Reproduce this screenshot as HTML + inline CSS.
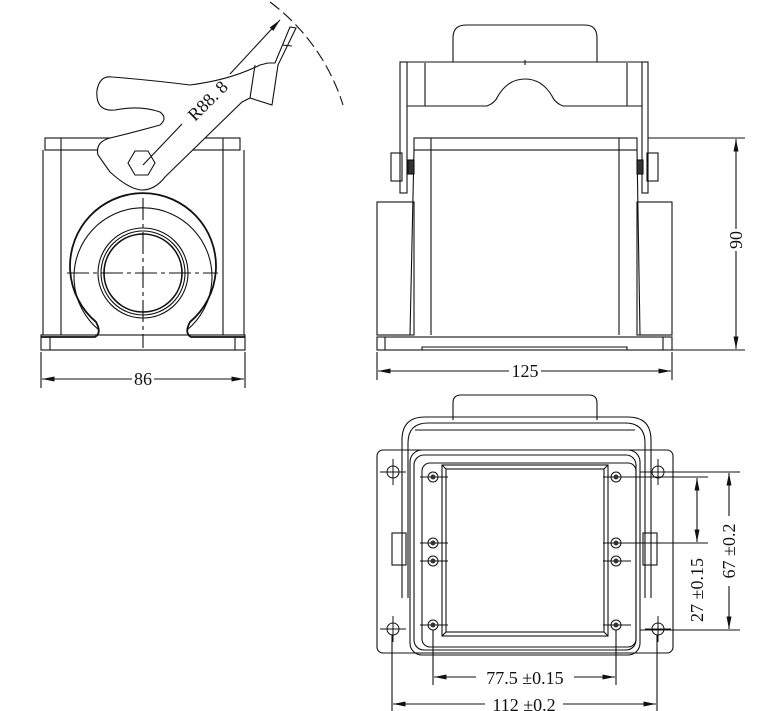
<!DOCTYPE html>
<html><head><meta charset="utf-8"><style>
html,body{margin:0;padding:0;background:#fff;}
svg{display:block;}
text{font-family:"Liberation Serif","Noto Serif CJK SC",serif;font-size:18px;fill:#111;}
</style></head><body>
<svg width="769" height="711" viewBox="0 0 769 711" xmlns="http://www.w3.org/2000/svg">
<defs>
<marker id="a" viewBox="0 0 10 4" refX="10" refY="2" markerWidth="14" markerHeight="5" orient="auto-start-reverse" markerUnits="userSpaceOnUse"><path d="M0,0 L10,2 L0,4z" fill="#111"/></marker>
</defs>
<g fill="none" stroke="#111" stroke-width="1.1">
<!-- LEFT VIEW -->
<rect x="45" y="138" width="195" height="12"/>
<line x1="61" y1="138" x2="61" y2="335"/><line x1="223" y1="138" x2="223" y2="335"/>
<path d="M43,150 L43,335 M244,150 L244,335"/>
<rect x="41" y="335" width="204" height="15"/>
<line x1="50" y1="337" x2="50" y2="350"/><line x1="235" y1="337" x2="235" y2="350"/>
<path d="M41,337 L95,337 Q102,333 96,322 A73,73 0 1 1 190,322 Q184,333 191,337 L245,337" stroke-width="1.8"/>
<path d="M99,330 A69,69 0 1 1 187,330" />
<circle cx="143" cy="273" r="45"/><circle cx="143" cy="273" r="42"/><circle cx="143" cy="273" r="39" stroke-width="1.6"/>
<line x1="67" y1="273" x2="218" y2="273" stroke-dasharray="22,4,4,4"/>
<line x1="143" y1="198" x2="143" y2="348" stroke-dasharray="22,4,4,4"/>
<!-- lever -->
<path d="M142,190 Q130,190 110,172 L98,155 Q95,142 110,138 Q135,132 160,125 Q168,118 160,112 Q140,105 115,110 Q95,112 97,90 Q100,75 112,77 Q150,80 190,85 Q230,80 260,65 L268,63 L275,63 L290,27 L296,28 L278,65 L272,105 L250,98 L242,102 L165,177 Q155,190 142,190z" fill="#fff"/>
<polygon points="155,163 148,175 135,175 128,163 135,151 148,151"/>
<line x1="282" y1="45" x2="292" y2="46"/><line x1="250" y1="98" x2="255" y2="65"/>
<line x1="143" y1="165" x2="182" y2="124"/>
<line x1="230" y1="74" x2="280" y2="20" marker-end="url(#a)"/>
<path d="M270,2 A205,205 0 0 1 343,105" stroke-dasharray="12,5"/>
<!-- 86 dim -->
<line x1="41" y1="352" x2="41" y2="388"/><line x1="245" y1="352" x2="245" y2="388"/>
<line x1="42" y1="379" x2="132" y2="379" marker-start="url(#a)"/><line x1="154" y1="379" x2="244" y2="379" marker-end="url(#a)"/>

<!-- RIGHT TOP VIEW -->
<path d="M453,62 L453,38 Q453,25 466,25 L585,25 Q597,25 597,38 L597,62"/>
<line x1="525" y1="60" x2="525" y2="65"/>
<path d="M402,62 L648,62"/>
<path d="M425,63 L425,106 L487,106 Q495,103 498,96 Q508,79 525,79 Q542,79 552,96 Q555,103 563,106 L627,106 L627,63" />
<path d="M407,106 L425,106 M627,106 L642,106"/>
<rect x="400" y="62" width="7" height="131"/><rect x="642" y="62" width="6" height="131"/>
<rect x="414" y="138" width="223" height="12"/>
<line x1="414" y1="150" x2="410" y2="335"/><line x1="637" y1="150" x2="640" y2="335"/>
<line x1="431" y1="138" x2="431" y2="335"/><line x1="619" y1="138" x2="619" y2="335"/>
<rect x="377" y="202" width="37" height="133"/><rect x="637" y="202" width="35" height="133"/>
<rect x="377" y="337" width="295" height="13"/>
<line x1="385" y1="337" x2="385" y2="350"/><line x1="663" y1="337" x2="663" y2="350"/>
<path d="M422,350 L422,347 L627,347 L627,350"/>
<rect x="391" y="153" width="11" height="28"/><rect x="647" y="153" width="11" height="28"/>
<rect x="408" y="160" width="6" height="14" fill="#333"/><rect x="637" y="160" width="6" height="14" fill="#333"/>
<!-- 90 dim -->
<line x1="648" y1="138" x2="745" y2="138"/><line x1="672" y1="350" x2="745" y2="350"/>
<line x1="736" y1="139" x2="736" y2="229" marker-start="url(#a)"/><line x1="736" y1="251" x2="736" y2="349" marker-end="url(#a)"/>
<!-- 125 dim -->
<line x1="377" y1="352" x2="377" y2="380"/><line x1="672" y1="352" x2="672" y2="380"/>
<line x1="378" y1="371" x2="509" y2="371" marker-start="url(#a)"/><line x1="541" y1="371" x2="671" y2="371" marker-end="url(#a)"/>

<!-- BOTTOM VIEW -->
<path d="M453,420 L453,403 Q453,395 461,395 L589,395 Q597,395 597,403 L597,420"/>
<path d="M402,598 L402,440 Q402,417 425,417 L628,417 Q651,417 651,440 L651,598"/>
<path d="M408,598 L408,443 Q408,423 428,423 L625,423 Q645,423 645,443 L645,598"/>
<path d="M415,430 L635,430"/>
<rect x="377" y="450" width="296" height="203" rx="6"/>
<rect x="410" y="450" width="230" height="205" rx="12"/>
<rect x="414" y="455" width="222" height="195" rx="10"/>
<rect x="422" y="463" width="214" height="184" rx="8"/>
<rect x="442" y="465" width="166" height="171"/>
<rect x="446" y="469" width="158" height="163"/>
<line x1="442" y1="465" x2="446" y2="469"/><line x1="608" y1="465" x2="604" y2="469"/>
<line x1="442" y1="636" x2="446" y2="632"/><line x1="608" y1="636" x2="604" y2="632"/>
<g stroke-width="1">
<circle cx="393" cy="472" r="6"/><circle cx="658" cy="472" r="6"/><circle cx="393" cy="629" r="6"/><circle cx="658" cy="629" r="6"/>
<path d="M380,472h26M393,459v26M645,472h26M658,459v26M380,629h26M393,616v26M645,629h26M658,616v26"/>
</g>
<g stroke-width="1">
<circle cx="433" cy="477" r="5"/><circle cx="433" cy="543" r="5"/><circle cx="433" cy="561" r="5"/><circle cx="433" cy="625" r="5"/>
<circle cx="616" cy="477" r="5"/><circle cx="616" cy="543" r="5"/><circle cx="616" cy="561" r="5"/><circle cx="616" cy="625" r="5"/>
<path d="M420,477h28M420,543h28M420,561h28M420,625h28M603,477h28M603,543h28M603,561h28M603,625h28"/>
</g>
<g fill="#333" stroke="none">
<circle cx="433" cy="477" r="2.5"/><circle cx="433" cy="543" r="2.5"/><circle cx="433" cy="561" r="2.5"/><circle cx="433" cy="625" r="2.5"/>
<circle cx="616" cy="477" r="2.5"/><circle cx="616" cy="543" r="2.5"/><circle cx="616" cy="561" r="2.5"/><circle cx="616" cy="625" r="2.5"/>
</g>
<rect x="392" y="533" width="14" height="32"/><rect x="643" y="533" width="14" height="32"/>
<!-- dims bottom -->
<line x1="433" y1="630" x2="433" y2="685"/><line x1="616" y1="630" x2="616" y2="685"/>
<line x1="434" y1="677" x2="476" y2="677" marker-start="url(#a)"/><line x1="574" y1="677" x2="615" y2="677" marker-end="url(#a)"/>
<line x1="392" y1="635" x2="392" y2="711"/><line x1="657" y1="635" x2="657" y2="711"/>
<line x1="393" y1="704" x2="485" y2="704" marker-start="url(#a)"/><line x1="563" y1="704" x2="656" y2="704" marker-end="url(#a)"/>
<line x1="640" y1="472" x2="740" y2="472"/><line x1="640" y1="630" x2="740" y2="630"/>
<line x1="622" y1="477" x2="708" y2="477"/><line x1="622" y1="543" x2="708" y2="543"/>
<line x1="729" y1="473" x2="729" y2="516" marker-start="url(#a)"/><line x1="729" y1="586" x2="729" y2="629" marker-end="url(#a)"/>
<line x1="697" y1="478" x2="697" y2="542" marker-start="url(#a)" marker-end="url(#a)"/>
</g>
<text x="143" y="385" text-anchor="middle">86</text>
<text x="525" y="377" text-anchor="middle">125</text>
<text transform="translate(742,240) rotate(-90)" text-anchor="middle">90</text>
<text transform="translate(212,105) rotate(-45)" text-anchor="middle">R88. 8</text>
<text x="525" y="684" text-anchor="middle">77.5  ±0.15</text>
<text x="524" y="711" text-anchor="middle">112  ±0.2</text>
<text transform="translate(735,551) rotate(-90)" text-anchor="middle">67  ±0.2</text>
<text transform="translate(703,590) rotate(-90)" text-anchor="middle">27  ±0.15</text>
</svg>
</body></html>
